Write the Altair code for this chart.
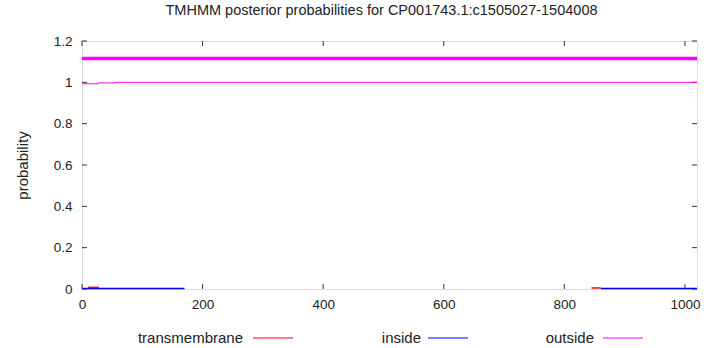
import altair as alt
import pandas as pd

# ---- data ----
x_ticks = [0, 200, 400, 600, 800, 1000]
y_ticks = [0, 0.2, 0.4, 0.6, 0.8, 1.0, 1.2]

outside_pos = [0, 27, 55, 1020]
outside_prob = [0.993, 0.997, 1.0, 1.0]

bar_pos = [0, 1020]
bar_level = [1.115, 1.115]

tm_pos = [10, 28, 845, 860]
tm_prob = [0.008, 0.008, 0.005, 0.005]
tm_seg = [1, 1, 2, 2]

inside_pos = [0, 170, 860, 1020]
inside_prob = [0.002, 0.002, 0.002, 0.002]
inside_seg = [1, 1, 2, 2]

legend_names = ["transmembrane", "inside", "outside"]
colors = ["#ff0000", "#0000ff", "#ff00ff"]

W, H = 615, 248
FONT = "Liberation Sans"
TXT = "#222"

xs = alt.Scale(domain=[0, 1020], nice=False, zero=False)
ys = alt.Scale(domain=[0, 1.2], nice=False)

xaxis = alt.Axis(values=x_ticks, ticks=False, domain=False, grid=False,
                 labelFont=FONT, labelFontSize=13.5, labelColor=TXT,
                 labelPadding=8, title=None, labelFlush=False, format="d")
yaxis = alt.Axis(values=y_ticks, ticks=False, domain=False, grid=False,
                 labelFont=FONT, labelFontSize=13.5, labelColor=TXT,
                 labelPadding=10, title="probability", titleFont=FONT,
                 titleFontSize=15, titleFontWeight="normal", titleColor=TXT,
                 titlePadding=23, labelExpr="format(datum.value, '~g')")

df_out = pd.DataFrame({"x": outside_pos, "y": outside_prob})
df_bar = pd.DataFrame({"x": bar_pos, "y": bar_level})
df_tm = pd.DataFrame({"x": tm_pos, "y": tm_prob, "s": tm_seg})
df_in = pd.DataFrame({"x": inside_pos, "y": inside_prob, "s": inside_seg})
df_xt = pd.DataFrame({"x": x_ticks})
df_yt = pd.DataFrame({"y": y_ticks})

base_axes = alt.Chart(df_xt).mark_rule(color="#333", strokeWidth=1).encode(
    x=alt.X("x:Q", scale=xs, axis=xaxis),
    y=alt.value(H), y2=alt.value(H - 5),
)
top_ticks = alt.Chart(df_xt).mark_rule(color="#333", strokeWidth=1).encode(
    x=alt.X("x:Q", scale=xs), y=alt.value(0), y2=alt.value(5),
)
left_ticks = alt.Chart(df_yt).mark_rule(color="#333", strokeWidth=1).encode(
    y=alt.Y("y:Q", scale=ys, axis=yaxis), x=alt.value(0), x2=alt.value(5),
)
right_ticks = alt.Chart(df_yt).mark_rule(color="#333", strokeWidth=1).encode(
    y=alt.Y("y:Q", scale=ys), x=alt.value(W), x2=alt.value(W - 5),
)

bar = alt.Chart(df_bar).mark_line(color=colors[2], strokeWidth=3.5).encode(
    x=alt.X("x:Q", scale=xs), y=alt.Y("y:Q", scale=ys))
outside = alt.Chart(df_out).mark_line(color=colors[2], strokeWidth=1,
                                      interpolate="step-after").encode(
    x=alt.X("x:Q", scale=xs), y=alt.Y("y:Q", scale=ys))
tm = alt.Chart(df_tm).mark_line(color=colors[0], strokeWidth=1.5).encode(
    x=alt.X("x:Q", scale=xs), y=alt.Y("y:Q", scale=ys), detail="s:N")
inside = alt.Chart(df_in).mark_line(color=colors[1], strokeWidth=1.5).encode(
    x=alt.X("x:Q", scale=xs), y=alt.Y("y:Q", scale=ys), detail="s:N")

# manual legend (label then line sample), placed below the plot
leg_text_x = [161, 339, 512]      # right ends of labels, relative to plot left
leg_line_x = [(171, 211), (346, 386), (521, 561)]
LEG_Y = 297
legend_layers = []
for name, col, tx, (l0, l1) in zip(legend_names, colors, leg_text_x, leg_line_x):
    d = pd.DataFrame({"name": [name]})
    legend_layers.append(
        alt.Chart(d).mark_text(align="right", baseline="middle", font=FONT,
                               fontSize=15, color=TXT).encode(
            text="name:N", x=alt.value(tx), y=alt.value(LEG_Y)))
    legend_layers.append(
        alt.Chart(d).mark_rule(color=col, strokeWidth=1).encode(
            x=alt.value(l0), x2=alt.value(l1), y=alt.value(LEG_Y)))

chart = alt.layer(base_axes, top_ticks, left_ticks, right_ticks,
                  inside, tm, outside, bar, *legend_layers).properties(
    width=W, height=H,
    title=alt.TitleParams("TMHMM posterior probabilities for CP001743.1:c1505027-1504008",
                          font=FONT, fontSize=14.5, fontWeight="normal",
                          color=TXT, anchor="middle", offset=16, dx=-8),
    autosize=alt.AutoSizeParams(type="none"),
    padding={"left": 82, "top": 41, "right": 19, "bottom": 59},
).configure_view(stroke="#333", strokeWidth=1).configure(background="white")

chart.save("out.html", embed_options={"renderer": "svg", "actions": False})
